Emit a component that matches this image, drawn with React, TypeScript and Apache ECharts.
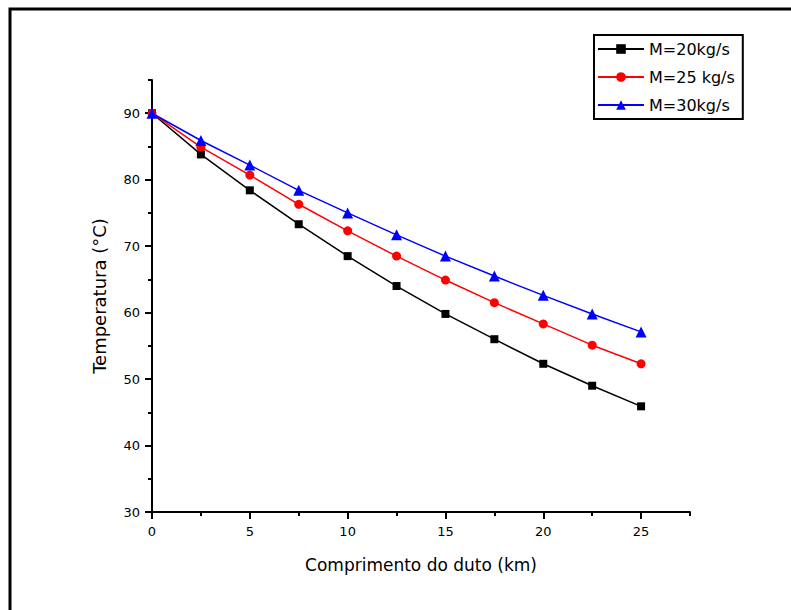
import React, { useEffect, useRef } from "react";
import * as echarts from "echarts";

const xValues = [0, 2.5, 5, 7.5, 10, 12.5, 15, 17.5, 20, 22.5, 25];
const m20 = [90, 83.8, 78.4, 73.3, 68.5, 64.0, 59.8, 56.0, 52.3, 49.0, 45.9];
const m25 = [90, 84.9, 80.7, 76.3, 72.3, 68.5, 64.9, 61.5, 58.3, 55.1, 52.3];
const m30 = [90, 85.9, 82.2, 78.4, 75.0, 71.7, 68.5, 65.5, 62.6, 59.8, 57.1];
const seriesNames = ["M=20kg/s", "M=25 kg/s", "M=30kg/s"];
const xMajor = [0, 5, 10, 15, 20, 25];
const xMinor = [2.5, 7.5, 12.5, 17.5, 22.5, 27.5];
const yMajor = [30, 40, 50, 60, 70, 80, 90];
const yMinor = [35, 45, 55, 65, 75, 85, 95];

const FONT = "DejaVu Sans";

export default function App() {
  const ref = useRef<HTMLDivElement>(null);
  useEffect(() => {
    if (!ref.current) return;
    const chart = echarts.init(ref.current, undefined, { renderer: "svg" });
    const pair = (ys: number[]) => xValues.map((x, i) => [x, ys[i]]);
    const mkSeries = (name: string, ys: number[], color: string, symbol: string, size: number) => ({
      type: "line",
      name,
      data: pair(ys),
      symbol,
      symbolSize: size,
      showAllSymbol: true,
      lineStyle: { color, width: 1.5 },
      itemStyle: { color },
      xAxisIndex: 0,
      yAxisIndex: 0,
    });
    chart.setOption({
      animation: false,
      backgroundColor: "#fff",
      graphic: [
        {
          type: "rect",
          shape: { x: 10, y: 9, width: 900, height: 900 },
          style: { fill: "none", stroke: "#000", lineWidth: 3 },
          silent: true,
        },
      ],
      legend: {
        orient: "vertical",
        left: 594,
        top: 35,
        itemWidth: 46,
        itemHeight: 12,
        itemGap: 12,
        padding: [6, 8, 6, 3],
        borderColor: "#000",
        borderWidth: 2,
        backgroundColor: "#fff",
        textStyle: { fontFamily: FONT, fontSize: 16, color: "#000" },
        data: seriesNames,
      },
      grid: { left: 152, top: 80, right: 101, bottom: 98, containLabel: false },
      xAxis: [
        {
          type: "value",
          min: 0,
          max: 27.5,
          interval: 5,
          name: "Comprimento do duto (km)",
          nameLocation: "middle",
          nameGap: 44,
          nameTextStyle: { fontFamily: FONT, fontSize: 17, color: "#000" },
          axisLine: { show: true, lineStyle: { color: "#000", width: 2 } },
          axisTick: { show: true, customValues: xMajor, length: 7, lineStyle: { color: "#000", width: 2 } },
          axisLabel: { customValues: xMajor, margin: 13, fontFamily: FONT, fontSize: 13, color: "#000" },
          splitLine: { show: false },
        },
        {
          type: "value",
          min: 0,
          max: 27.5,
          position: "bottom",
          axisLine: { show: false },
          axisTick: { show: true, customValues: xMinor, length: 4, lineStyle: { color: "#000", width: 2 } },
          axisLabel: { show: false },
          splitLine: { show: false },
        },
      ],
      yAxis: [
        {
          type: "value",
          min: 30,
          max: 95,
          interval: 10,
          name: "Temperatura (°C)",
          nameLocation: "middle",
          nameGap: 44,
          nameRotate: 90,
          nameTextStyle: { fontFamily: FONT, fontSize: 18, color: "#000" },
          axisLine: { show: true, lineStyle: { color: "#000", width: 2 } },
          axisTick: { show: true, customValues: yMajor, length: 7, lineStyle: { color: "#000", width: 2 } },
          axisLabel: { customValues: yMajor, margin: 12, fontFamily: FONT, fontSize: 13, color: "#000" },
          splitLine: { show: false },
        },
        {
          type: "value",
          min: 30,
          max: 95,
          position: "left",
          axisLine: { show: false },
          axisTick: { show: true, customValues: yMinor, length: 4, lineStyle: { color: "#000", width: 2 } },
          axisLabel: { show: false },
          splitLine: { show: false },
        },
      ],
      series: [
        mkSeries(seriesNames[0], m20, "#000000", "rect", 8),
        mkSeries(seriesNames[1], m25, "#ff0000", "circle", 9),
        mkSeries(seriesNames[2], m30, "#0000ff", "triangle", 11),
      ],
    });
    return () => chart.dispose();
  }, []);
  return (
    <div
      ref={ref}
      style={{ position: "absolute", left: 0, top: 0, width: 791, height: 610 }}
    />
  );
}
